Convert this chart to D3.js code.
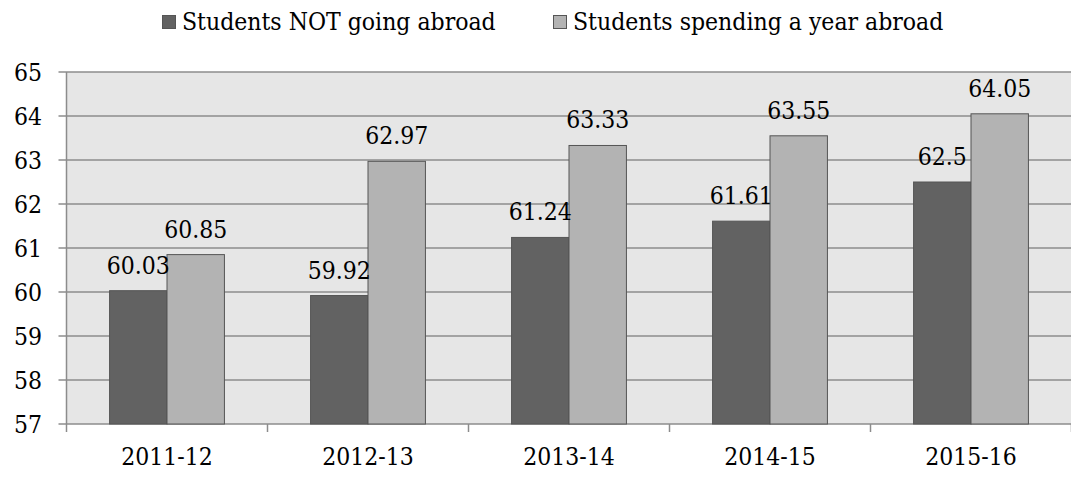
<!DOCTYPE html>
<html>
<head>
<meta charset="utf-8">
<script src="https://cdn.jsdelivr.net/npm/d3@7"></script>
<style>
  html, body { margin: 0; padding: 0; background: #fff; }
  svg { display: block; }
  text { font-family: "DejaVu Serif Condensed", "DejaVu Serif", serif; font-stretch: condensed; fill: #000; }
</style>
</head>
<body>
<svg id="chart" width="1071" height="479"></svg>
<script>
const categories = ["2011-12", "2012-13", "2013-14", "2014-15", "2015-16"];
const seriesNames = ["Students NOT going abroad", "Students spending a year abroad"];
const notAbroad = [60.03, 59.92, 61.24, 61.61, 62.5];
const yearAbroad = [60.85, 62.97, 63.33, 63.55, 64.05];
const yTicks = [57, 58, 59, 60, 61, 62, 63, 64, 65];
const colors = ["#626262", "#b3b3b3"];

const svg = d3.select("#chart");
const plotL = 66.5, plotR = 1071.5, plotT = 72, plotB = 424;
const fs = 24.5;

const x = d3.scaleBand().domain(categories).range([plotL, plotR]).paddingInner(0).paddingOuter(0);
const y = d3.scaleLinear().domain([57, 65]).range([plotB, plotT]);
const barW = x.bandwidth() / 3.5;
const xs = d3.scaleBand().domain([0, 1]).range([-barW, barW]);

svg.append("rect").attr("x", plotL).attr("y", plotT).attr("width", plotR - plotL).attr("height", plotB - plotT).attr("fill", "#e6e6e6");

svg.append("g").selectAll("line").data(yTicks).join("line")
  .attr("x1", plotL - 8).attr("x2", plotR)
  .attr("y1", d => y(d)).attr("y2", d => y(d))
  .attr("stroke", "#8c8c8c").attr("stroke-width", 1.5);

svg.append("line").attr("x1", plotL).attr("x2", plotL).attr("y1", plotT).attr("y2", plotB)
  .attr("stroke", "#8c8c8c").attr("stroke-width", 1.5);

svg.append("g").selectAll("text").data(yTicks).join("text")
  .attr("x", 42).attr("y", d => y(d)).attr("dy", "0.36em")
  .attr("text-anchor", "end").attr("font-size", fs).text(d => d);

const bounds = categories.map(c => x(c)).concat([plotR]);
svg.append("g").selectAll("line").data(bounds).join("line")
  .attr("x1", d => d).attr("x2", d => d).attr("y1", plotB).attr("y2", plotB + 8)
  .attr("stroke", "#8c8c8c").attr("stroke-width", 1.5);

svg.append("g").selectAll("text").data(categories).join("text")
  .attr("x", d => x(d) + x.bandwidth() / 2).attr("y", 465)
  .attr("text-anchor", "middle").attr("font-size", fs).text(d => d);

const series = [notAbroad, yearAbroad];
series.forEach((vals, si) => {
  svg.append("g").selectAll("rect").data(vals).join("rect")
    .attr("x", (d, i) => x(categories[i]) + x.bandwidth() / 2 + xs(si))
    .attr("y", d => y(d))
    .attr("width", xs.bandwidth())
    .attr("height", d => plotB - y(d))
    .attr("fill", colors[si]).attr("stroke", "#555").attr("stroke-width", 1);
});
series.forEach((vals, si) => {
  svg.append("g").selectAll("text").data(vals).join("text")
    .attr("x", (d, i) => x(categories[i]) + x.bandwidth() / 2 + xs(si) + xs.bandwidth() / 2)
    .attr("y", d => y(d) - 17)
    .attr("text-anchor", "middle").attr("font-size", fs).text(d => d);
});

const legend = svg.append("g");
const legX = [162, 553];
seriesNames.forEach((n, i) => {
  legend.append("rect").attr("x", legX[i] + 0.5).attr("y", 15.5).attr("width", 13).attr("height", 13)
    .attr("fill", colors[i]).attr("stroke", "#555").attr("stroke-width", 1);
  legend.append("text").attr("x", legX[i] + 20).attr("y", 30).attr("font-size", fs).text(n);
});
</script>
</body>
</html>
